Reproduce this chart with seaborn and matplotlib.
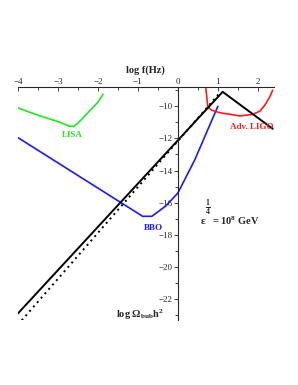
import matplotlib
matplotlib.use("Agg")
import matplotlib.pyplot as plt
from matplotlib.ticker import MultipleLocator
import seaborn as sns

# curves (log f in Hz, log Omega h^2)
lisa_x = [-4, -3.5, -3, -2.7, -2.6, -2.5, -2.25, -2.0, -1.87]
lisa_y = [-10.1, -10.55, -10.95, -11.25, -11.25, -11.05, -10.4, -9.75, -9.25]

bbo_x = [-4, -0.88, -0.65, -0.3, 0.0, 0.42, 1.0]
bbo_y = [-11.95, -16.85, -16.85, -16.2, -15.4, -13.35, -10.0]

ligo_x = [0.7, 0.75, 0.85, 1.05, 1.3, 1.55, 1.88, 2.05, 2.17, 2.3, 2.37]
ligo_y = [-8.9, -10.05, -10.25, -10.4, -10.5, -10.6, -10.5, -10.3, -9.95, -9.4, -9.0]

bub_x = [-4.0, 1.12, 2.37]
bub_y = [-22.9, -9.1, -11.4]

bub2_x = [-4.0, 1.02]
bub2_y = [-23.6, -9.25]

xticks = [-4, -3, -2, -1, 0, 1, 2]
yticks = [-22, -20, -18, -16, -14, -12, -10]

sns.set_style("ticks")
plt.rcParams['font.family'] = ['Liberation Serif', 'DejaVu Serif']
plt.rcParams['mathtext.fontset'] = 'custom'
plt.rcParams['mathtext.rm'] = 'Liberation Serif:bold'
plt.rcParams['mathtext.it'] = 'Liberation Serif:bold'
plt.rcParams['mathtext.bf'] = 'Liberation Serif:bold'

fig, ax = plt.subplots(figsize=(2.98, 3.85), dpi=100)
fig.subplots_adjust(left=0.060, right=0.919, top=0.774, bottom=0.169)

sns.lineplot(x=lisa_x, y=lisa_y, sort=False, color='#22e622', lw=1.2, ax=ax)
sns.lineplot(x=bbo_x, y=bbo_y, sort=False, color='#1a1aff', lw=1.2, ax=ax)
sns.lineplot(x=ligo_x, y=ligo_y, sort=False, color='#ff1a1a', lw=1.2, ax=ax)
sns.lineplot(x=bub_x, y=bub_y, sort=False, color='black', lw=1.4, ax=ax)
sns.lineplot(x=bub2_x, y=bub2_y, sort=False, color='black', lw=1.4,
             linestyle=(0, (1, 2)), ax=ax)

ax.set_xlim(-4, 2.4)
ax.set_ylim(-23.3, -8.8)

# maple style axes: x axis on top, y axis through x = 0
ax.spines['bottom'].set_visible(False)
ax.spines['right'].set_visible(False)
ax.spines['left'].set_position(('data', 0))
for s in ['top', 'left']:
    ax.spines[s].set_linewidth(0.8)
ax.xaxis.set_ticks_position('top')
ax.set_xticks(xticks)
ax.set_yticks(yticks)
ax.set_xticklabels([f'−{abs(t)}' if t < 0 else str(t) for t in xticks])
ax.set_yticklabels([f'−{abs(t)}' for t in yticks])
ax.xaxis.set_minor_locator(MultipleLocator(0.5))
ax.yaxis.set_minor_locator(MultipleLocator(1))
ax.tick_params(which='both', length=3, width=0.6, labelsize=6.5, pad=1)
ax.tick_params(axis='x', which='both', direction='in')
ax.tick_params(axis='y', which='both', direction='out')
ax.tick_params(which='minor', length=2.5)
ax.set_xlabel('')
ax.set_ylabel('')

ax.text(-0.8, -7.75, 'log f(Hz)', fontsize=7.5, fontweight='bold',
        ha='center', va='center')
ax.text(-2.65, -11.8, 'LISA', color='#22e622', fontsize=6.5,
        fontweight='bold', ha='center', va='center')
ax.text(-0.62, -17.6, 'BBO', color='#1a1aff', fontsize=6.5,
        fontweight='bold', ha='center', va='center')
ax.text(1.85, -11.3, 'Adv. LIGO', color='#ff1a1a', fontsize=6.5,
        fontweight='bold', ha='center', va='center')
# epsilon^(1/4) = 10^8 GeV, fraction set above the epsilon as in the original
ax.text(0.62, -17.15, 'ε', fontsize=8, fontweight='bold',
        ha='center', va='center')
ax.text(0.74, -16.35, r'$\frac{1}{4}$', fontsize=8,
        ha='center', va='center')
ax.text(0.86, -17.15, r'= 10$^{8}$ GeV', fontsize=7.5, fontweight='bold',
        ha='left', va='center')
ax.text(-0.95, -23.0, r'log Ω$_{\mathrm{bub}}$h$^{2}$', fontsize=7.5,
        fontweight='bold', ha='center', va='center')

fig.savefig('out.png', dpi=100)
